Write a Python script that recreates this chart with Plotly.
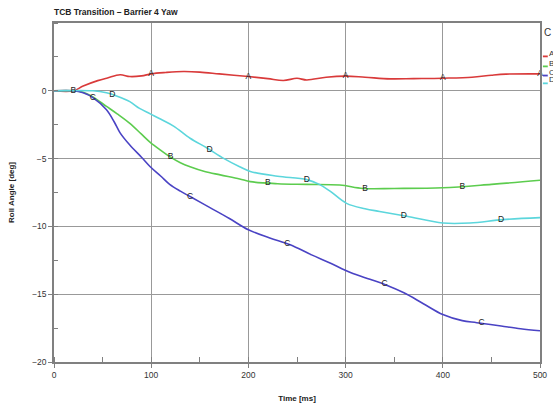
import numpy as np
import plotly.graph_objects as go

title = "TCB Transition \u2013 Barrier 4 Yaw"
x_title = "Time [ms]"
y_title = "Roll Angle [deg]"

names = ["A", "B", "C", "D"]
colors = ["#d93a3a", "#5ccc4e", "#4a43c4", "#5cd6dc"]

a_t = [0, 20, 30, 45, 55, 68, 78, 90, 100, 115, 133, 150, 170, 200, 220, 236, 250, 260, 280, 300, 320, 346, 370, 400, 430, 450, 465, 500]
a_y = [0, 0, 0.35, 0.75, 0.95, 1.18, 1.05, 1.1, 1.25, 1.35, 1.42, 1.38, 1.25, 1.05, 0.9, 0.76, 0.92, 0.8, 1.0, 1.08, 1.0, 0.88, 0.9, 0.93, 1.0, 1.15, 1.23, 1.25]

b_t = [0, 20, 30, 40, 54, 65, 78, 90, 99, 110, 119, 130, 140, 155, 171, 191, 202, 230, 260, 294, 318, 350, 400, 450, 500]
b_y = [0, 0, -0.1, -0.45, -1.15, -1.7, -2.4, -3.2, -3.8, -4.4, -4.85, -5.3, -5.6, -5.95, -6.2, -6.5, -6.7, -6.85, -6.9, -6.95, -7.2, -7.2, -7.15, -6.9, -6.6]

c_t = [0, 20, 30, 40, 54, 62, 68, 78, 90, 99, 110, 119, 130, 140, 160, 180, 200, 222, 243, 265, 284, 305, 325, 341, 360, 380, 400, 420, 435, 460, 480, 500]
c_y = [0, 0, -0.15, -0.5, -1.4, -2.3, -3.1, -4.0, -4.9, -5.6, -6.3, -6.9, -7.4, -7.8, -8.6, -9.4, -10.25, -10.85, -11.35, -12.1, -12.7, -13.4, -13.9, -14.3, -14.9, -15.7, -16.5, -16.95, -17.1, -17.35, -17.55, -17.7]

d_t = [0, 40, 54, 65, 78, 88, 99, 110, 123, 140, 157, 175, 191, 202, 230, 260, 273, 284, 301, 320, 335, 363, 400, 428, 462, 500]
d_y = [0, 0, -0.15, -0.4, -0.8, -1.3, -1.7, -2.1, -2.6, -3.5, -4.2, -5.0, -5.6, -5.95, -6.3, -6.55, -6.9, -7.4, -8.3, -8.7, -8.9, -9.25, -9.75, -9.75, -9.5, -9.35]

label_t = {
    "A": [100, 200, 300, 400, 500],
    "B": [20, 120, 220, 320, 420],
    "C": [40, 140, 240, 340, 440],
    "D": [60, 160, 260, 360, 460],
}

x_ticks = [0, 100, 200, 300, 400, 500]
y_ticks = [0, -5, -10, -15, -20]

series = [(a_t, a_y), (b_t, b_y), (c_t, c_y), (d_t, d_y)]
font = "Liberation Sans, Arial, sans-serif"

fig = go.Figure()
for name, col, (t, y) in zip(names, colors, series):
    fig.add_trace(go.Scatter(x=t, y=y, mode="lines", line=dict(color=col, width=1.6),
                             line_shape="spline", showlegend=False, name=name))
for name, (t, y) in zip(names, series):
    lt = label_t[name]
    ly = np.interp(lt, t, y)
    fig.add_trace(go.Scatter(x=lt, y=ly, mode="text", text=[name] * len(lt),
                             textfont=dict(size=8.5, color="#222222", family=font),
                             showlegend=False, cliponaxis=False))

axis_common = dict(
    showgrid=True, gridcolor="#999999", gridwidth=1,
    showline=True, linecolor="#808080", linewidth=1.5, mirror=True,
    ticks="outside", ticklen=4, tickcolor="#808080",
    tickfont=dict(size=8.5, color="#333333", family=font),
    zeroline=False,
)

fig.update_xaxes(range=[0, 500], tickvals=x_ticks,
                 minor=dict(dtick=50, ticks="inside", ticklen=5, tickcolor="#808080", showgrid=False),
                 title=dict(text="<b>" + x_title + "</b>", font=dict(size=8, color="#222222", family=font), standoff=16),
                 **axis_common)
fig.update_yaxes(range=[-20, 5], tickvals=y_ticks,
                 minor=dict(dtick=2.5, ticks="inside", ticklen=4, tickcolor="#808080", showgrid=False),
                 title=dict(text="<b>" + y_title + "</b>", font=dict(size=8, color="#222222", family=font), standoff=16),
                 **axis_common)

# legend at the right edge, cut off by the page edge as in the source
fig.add_annotation(x=1.004, y=0.973, xref="paper", yref="paper", text="C", showarrow=False,
                   xanchor="left", yanchor="middle", font=dict(size=10, color="#333333", family=font))
leg_y = [0.9115, 0.882, 0.855, 0.832]
for name, col, yy in zip(names, colors, leg_y):
    fig.add_shape(type="line", xref="paper", yref="paper", x0=1.006, x1=1.016, y0=yy - 0.01, y1=yy - 0.01,
                  line=dict(color=col, width=1.8))
    fig.add_annotation(x=1.014, y=yy, xref="paper", yref="paper", text=name, showarrow=False,
                       xanchor="left", yanchor="middle", font=dict(size=8, color="#333333", family=font))

fig.update_layout(
    width=553, height=411,
    margin=dict(l=54, r=13, t=23, b=49, autoexpand=False),
    paper_bgcolor="white", plot_bgcolor="white",
    title=dict(text="<b>" + title + "</b>", x=0.0976, xanchor="left", y=0.971, yanchor="middle",
               font=dict(size=8.5, color="#222222", family=font)),
    showlegend=False,
)

fig.write_html("out.html", config={"displayModeBar": False},
               post_script="document.body.style.margin='0';document.body.style.overflow='hidden';")
